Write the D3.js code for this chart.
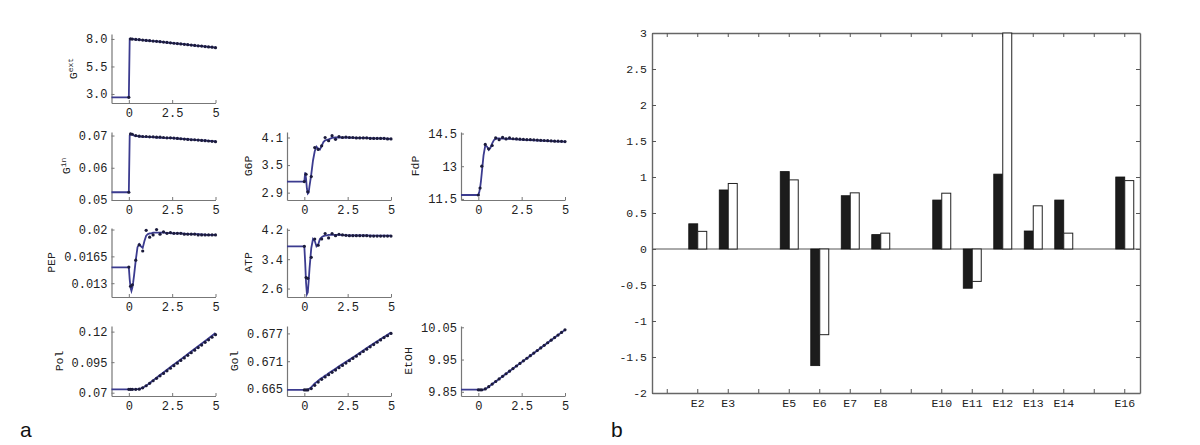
<!DOCTYPE html>
<html><head><meta charset="utf-8">
<script src="https://cdn.jsdelivr.net/npm/d3@7"></script>
<style>body{margin:0;background:#fff} svg{display:block}</style>
</head><body><svg id="c" width="1200" height="445"></svg>
<script>
// ---------- panel a data ----------
const tLine = [-1, 0, 0.05, 0.1, 0.15, 0.2, 0.25, 0.3, 0.4, 0.5, 0.6, 0.7, 0.8, 0.9, 1.0, 1.1, 1.2, 1.3, 1.4, 1.6, 1.8, 2.0, 2.5, 3.0, 3.5, 4.0, 4.5, 5.0];
const tDots = [0, 0.1, 0.2, 0.4, 0.6, 0.8, 1.0, 1.2, 1.4, 1.6, 1.8, 2.0, 2.2, 2.4, 2.6, 2.8, 3.0, 3.2, 3.4, 3.6, 3.8, 4.0, 4.2, 4.4, 4.6, 4.8, 5.0];
const xTicksSmall = [0, 2.5, 5];
const xTickLabelsSmall = ["0", "2.5", "5"];

const gextLine = [2.7, 2.7, 8.0, 8.0, 7.99, 7.99, 7.98, 7.97, 7.96, 7.94, 7.93, 7.91, 7.90, 7.88, 7.87, 7.85, 7.84, 7.82, 7.81, 7.78, 7.75, 7.72, 7.63, 7.55, 7.46, 7.38, 7.30, 7.21];
const gextDots = [2.7, 8.0, 7.99, 7.96, 7.93, 7.90, 7.87, 7.84, 7.81, 7.78, 7.75, 7.72, 7.68, 7.65, 7.61, 7.58, 7.55, 7.51, 7.48, 7.44, 7.41, 7.38, 7.35, 7.31, 7.28, 7.25, 7.21];
const gextTicks = ["3.0", "5.5", "8.0"];

const ginLine = [0.0524, 0.0524, 0.0700, 0.0704, 0.0704, 0.0703, 0.0702, 0.0700, 0.0699, 0.0698, 0.0697, 0.0697, 0.0697, 0.0696, 0.0696, 0.0696, 0.0696, 0.0695, 0.0695, 0.0694, 0.0694, 0.0693, 0.0692, 0.0690, 0.0688, 0.0686, 0.0684, 0.0682];
const ginDots = [0.0524, 0.0705, 0.0704, 0.0700, 0.0698, 0.0697, 0.0697, 0.0696, 0.0696, 0.0695, 0.0695, 0.0694, 0.0693, 0.0693, 0.0692, 0.0691, 0.0690, 0.0689, 0.0688, 0.0687, 0.0687, 0.0686, 0.0685, 0.0684, 0.0683, 0.0682, 0.0681];
const ginTicks = ["0.05", "0.06", "0.07"];

const g6pLine = [3.14, 3.14, 3.34, 3.2, 2.98, 2.88, 2.9, 3.05, 3.3, 3.6, 3.8, 3.9, 3.86, 3.84, 3.92, 4.0, 4.04, 4.05, 4.06, 4.09, 4.1, 4.1, 4.1, 4.09, 4.09, 4.08, 4.08, 4.07];
const g6pDots = [3.14, 3.30, 2.92, 3.25, 3.88, 3.84, 3.92, 4.10, 4.03, 4.14, 4.06, 4.12, 4.10, 4.11, 4.10, 4.10, 4.09, 4.09, 4.09, 4.09, 4.08, 4.08, 4.08, 4.08, 4.08, 4.07, 4.07];
const g6pTicks = ["2.9", "3.5", "4.1"];

const fdpLine = [11.68, 11.68, 11.8, 12.0, 12.3, 12.7, 13.1, 13.5, 13.95, 13.9, 13.75, 13.85, 14.05, 14.2, 14.25, 14.28, 14.28, 14.27, 14.27, 14.26, 14.25, 14.24, 14.22, 14.2, 14.18, 14.16, 14.14, 14.13];
const fdpDots = [11.68, 12.0, 13.0, 14.0, 13.8, 13.95, 14.3, 14.22, 14.32, 14.25, 14.3, 14.26, 14.25, 14.24, 14.23, 14.22, 14.22, 14.21, 14.20, 14.19, 14.18, 14.17, 14.16, 14.15, 14.15, 14.14, 14.13];
const fdpTicks = ["11.5", "13", "14.5"];

const pepLine = [0.01507, 0.01507, 0.0135, 0.0124, 0.0120, 0.0124, 0.0131, 0.0140, 0.0160, 0.0177, 0.0181, 0.0178, 0.0176, 0.0185, 0.0192, 0.0194, 0.0195, 0.0195, 0.0196, 0.0196, 0.0196, 0.0196, 0.0195, 0.0195, 0.0194, 0.0194, 0.0193, 0.0193];
const pepDots = [0.0151, 0.0126, 0.0128, 0.0160, 0.0180, 0.0172, 0.0199, 0.0190, 0.0193, 0.0200, 0.0194, 0.0197, 0.0195, 0.0196, 0.0195, 0.0195, 0.0195, 0.0194, 0.0194, 0.0194, 0.0194, 0.0193, 0.0193, 0.0193, 0.0193, 0.0193, 0.0193];
const pepTicks = ["0.013", "0.0165", "0.02"];

const atpLine = [3.75, 3.75, 3.3, 2.75, 2.45, 2.5, 2.8, 3.15, 3.7, 3.95, 3.9, 3.75, 3.8, 3.95, 4.0, 4.03, 4.04, 4.05, 4.06, 4.06, 4.06, 4.06, 4.05, 4.05, 4.05, 4.04, 4.04, 4.04];
const atpDots = [3.75, 2.9, 2.88, 3.45, 3.95, 3.78, 3.95, 4.10, 3.98, 4.10, 4.04, 4.08, 4.06, 4.05, 4.04, 4.04, 4.04, 4.04, 4.04, 4.04, 4.03, 4.03, 4.03, 4.03, 4.03, 4.03, 4.03];
const atpTicks = ["2.6", "3.4", "4.2"];

const polLine = [0.0728, 0.0728, 0.0728, 0.0728, 0.0728, 0.0728, 0.0728, 0.0728, 0.0728, 0.0729, 0.0731, 0.0735, 0.0741, 0.0749, 0.0758, 0.0768, 0.0779, 0.0790, 0.0801, 0.0823, 0.0845, 0.0866, 0.0920, 0.0973, 0.1027, 0.1080, 0.1134, 0.1188];
const polDots = [0.0728, 0.0728, 0.0728, 0.0728, 0.0729, 0.0740, 0.0757, 0.0777, 0.0798, 0.0818, 0.0838, 0.0858, 0.0879, 0.0900, 0.0921, 0.0942, 0.0964, 0.0985, 0.1006, 0.1027, 0.1048, 0.1069, 0.1090, 0.1112, 0.1133, 0.1154, 0.1175];
const polTicks = ["0.07", "0.095", "0.12"];

const golLine = [0.6648, 0.6648, 0.6648, 0.6648, 0.6648, 0.6649, 0.6650, 0.6651, 0.6654, 0.6658, 0.6662, 0.6665, 0.6668, 0.6671, 0.6674, 0.6676, 0.6679, 0.6681, 0.6684, 0.6689, 0.6694, 0.6699, 0.6711, 0.6723, 0.6736, 0.6748, 0.6760, 0.6772];
const golDots = [0.6648, 0.6648, 0.6648, 0.6651, 0.6658, 0.6665, 0.6671, 0.6676, 0.6681, 0.6686, 0.6691, 0.6696, 0.6701, 0.6706, 0.6711, 0.6716, 0.6721, 0.6726, 0.6731, 0.6736, 0.6741, 0.6746, 0.6751, 0.6756, 0.6761, 0.6765, 0.6770];
const golTicks = ["0.665", "0.671", "0.677"];

const etohLine = [9.857, 9.857, 9.856, 9.856, 9.856, 9.856, 9.856, 9.857, 9.859, 9.862, 9.866, 9.870, 9.874, 9.878, 9.882, 9.886, 9.890, 9.894, 9.898, 9.906, 9.914, 9.922, 9.942, 9.962, 9.982, 10.002, 10.022, 10.042];
const etohDots = [9.856, 9.856, 9.856, 9.859, 9.866, 9.874, 9.882, 9.890, 9.898, 9.906, 9.914, 9.922, 9.930, 9.938, 9.946, 9.954, 9.962, 9.970, 9.978, 9.986, 9.994, 10.002, 10.010, 10.018, 10.026, 10.034, 10.042];
const etohTicks = ["9.85", "9.95", "10.05"];

// ---------- panel b data ----------
const categories = ["E1","E2","E3","E4","E5","E6","E7","E8","E9","E10","E11","E12","E13","E14","E15","E16"];
const catLabels = ["","E2","E3","","E5","E6","E7","E8","","E10","E11","E12","E13","E14","","E16"];
const blackVals = [0, 0.35, 0.82, 0, 1.075, -1.62, 0.74, 0.20, 0, 0.68, -0.545, 1.04, 0.25, 0.68, 0, 1.0];
const whiteVals = [0, 0.245, 0.91, 0, 0.96, -1.19, 0.78, 0.22, 0, 0.775, -0.45, 3.0, 0.60, 0.22, 0, 0.95];
const barYTicks = [3, 2.5, 2, 1.5, 1, 0.5, 0, -0.5, -1, -1.5, -2];
const barYLabels = ["3","2.5","2","1.5","1","0.5","0","-0.5","-1","-1.5","-2"];

// ---------- drawing ----------
const svg = d3.select("#c");
const mono = "'Liberation Mono', 'Courier New', monospace";

const colLeft = [111.5, 287, 461];
const rowBox = [[34,103],[132,200],[228,297],[326,396]];
const pw = 104;

const panels = [
  {lab:"G", sup:"ext", col:0, row:0, line:gextLine, dots:gextDots, ticks:gextTicks, dom:[2.18, 8.45]},
  {lab:"G", sup:"in",  col:0, row:1, line:ginLine,  dots:ginDots,  ticks:ginTicks,  dom:[0.05, 0.0711]},
  {lab:"G6P", col:1, row:1, line:g6pLine, dots:g6pDots, ticks:g6pTicks, dom:[2.74, 4.22]},
  {lab:"FdP", col:2, row:1, line:fdpLine, dots:fdpDots, ticks:fdpTicks, dom:[11.45, 14.57]},
  {lab:"PEP", col:0, row:2, line:pepLine, dots:pepDots, ticks:pepTicks, dom:[0.0112, 0.0202]},
  {lab:"ATP", col:1, row:2, line:atpLine, dots:atpDots, ticks:atpTicks, dom:[2.37, 4.25]},
  {lab:"Pol", col:0, row:3, line:polLine, dots:polDots, ticks:polTicks, dom:[0.0673, 0.1246]},
  {lab:"Gol", col:1, row:3, line:golLine, dots:golDots, ticks:golTicks, dom:[0.6635, 0.6786]},
  {lab:"EtOH", col:2, row:3, line:etohLine, dots:etohDots, ticks:etohTicks, dom:[9.837, 10.054]}
];

const axisCol = "#777";
panels.forEach(p => {
  const left = colLeft[p.col];
  const [top, bottom] = rowBox[p.row];
  const x = d3.scaleLinear().domain([-1, 5]).range([left, left + pw]);
  const y = d3.scaleLinear().domain(p.dom).range([bottom, top]);
  const g = svg.append("g");

  const yax = d3.axisLeft(y).tickValues(p.ticks.map(Number))
    .tickFormat((d,i) => p.ticks[i]).tickSize(-3).tickSizeOuter(0).tickPadding(4);
  const ga = g.append("g").attr("transform", `translate(${left},0)`).call(yax);
  const xax = d3.axisBottom(x).tickValues(xTicksSmall)
    .tickFormat((d,i) => xTickLabelsSmall[i]).tickSize(-3).tickSizeOuter(0).tickPadding(5);
  const gb = g.append("g").attr("transform", `translate(0,${bottom})`).call(xax);
  [ga, gb].forEach(a => {
    a.select(".domain").attr("stroke", axisCol).attr("stroke-width", 1.2);
    a.selectAll(".tick line").attr("stroke", axisCol);
    a.selectAll("text").attr("font-family", mono).attr("font-size", 12).attr("fill", "#222");
  });

  const line = d3.line().x((d,i) => x(tLine[i])).y(d => y(d));
  g.append("path").datum(p.line).attr("d", line)
    .attr("fill", "none").attr("stroke", "#3b3b8f").attr("stroke-width", 1.8);
  g.selectAll("circle.d").data(p.dots).join("circle")
    .attr("cx", (d,i) => x(tDots[i])).attr("cy", d => y(d)).attr("r", 1.6)
    .attr("fill", "#1b1b3c");

  // y axis label
  const maxLen = d3.max(p.ticks, s => s.length);
  const lx = left - 4 - maxLen * 7.2 - 9;
  const t = g.append("text")
    .attr("transform", `translate(${lx},${(top + bottom) / 2}) rotate(-90)`)
    .attr("text-anchor", "middle").attr("font-family", mono).attr("font-size", 11.5).attr("fill", "#222");
  t.append("tspan").text(p.lab);
  if (p.sup) t.append("tspan").attr("baseline-shift", "super").attr("font-size", 8).text(p.sup);
});

svg.append("text").attr("x", 20).attr("y", 437).attr("font-family", "Arial, 'Liberation Sans', sans-serif")
  .attr("font-size", 21).attr("fill", "#111").text("a");

// ---------- bar chart ----------
const bx = d3.scaleBand().domain(categories).range([652, 1140]);
const by = d3.scaleLinear().domain([-2, 3]).range([393, 33]);
const bw = bx.bandwidth() * 0.295;
const bg = svg.append("g");

bg.append("line").attr("x1", 652).attr("x2", 1140).attr("y1", by(0)).attr("y2", by(0))
  .attr("stroke", "#555").attr("stroke-width", 1);

const fmtY = (d) => barYLabels[barYTicks.indexOf(d)];
const axes = [
  bg.append("g").attr("transform", `translate(652,0)`).call(d3.axisLeft(by).tickValues(barYTicks).tickFormat(fmtY).tickSize(-4).tickSizeOuter(0).tickPadding(5)),
  bg.append("g").attr("transform", `translate(1140,0)`).call(d3.axisRight(by).tickValues(barYTicks).tickFormat("").tickSize(-4).tickSizeOuter(0)),
  bg.append("g").attr("transform", `translate(0,393)`).call(d3.axisBottom(bx).tickFormat((d,i) => catLabels[i]).tickSize(-4).tickSizeOuter(0).tickPadding(6)),
  bg.append("g").attr("transform", `translate(0,33)`).call(d3.axisTop(bx).tickFormat("").tickSize(-4).tickSizeOuter(0))
];
axes.forEach(a => {
  a.select(".domain").attr("stroke", "#666").attr("stroke-width", 1.4);
  a.selectAll(".tick line").attr("stroke", "#555");
  a.selectAll("text").attr("font-family", mono).attr("font-size", 11.5).attr("fill", "#222");
});

const cx = c => bx(c) + bx.bandwidth() / 2;
bg.selectAll("rect.blk").data(categories.filter((c,i) => blackVals[i] !== 0)).join("rect")
  .attr("x", c => cx(c) - bw).attr("width", bw)
  .attr("y", c => by(Math.max(0, blackVals[categories.indexOf(c)])))
  .attr("height", c => Math.abs(by(blackVals[categories.indexOf(c)]) - by(0)))
  .attr("fill", "#1c1c1c").attr("stroke", "#111").attr("stroke-width", 0.8);
bg.selectAll("rect.wht").data(categories.filter((c,i) => whiteVals[i] !== 0)).join("rect")
  .attr("x", c => cx(c)).attr("width", bw)
  .attr("y", c => by(Math.max(0, whiteVals[categories.indexOf(c)])))
  .attr("height", c => Math.abs(by(whiteVals[categories.indexOf(c)]) - by(0)))
  .attr("fill", "#fff").attr("stroke", "#222").attr("stroke-width", 1);

svg.append("text").attr("x", 611).attr("y", 437).attr("font-family", "Arial, 'Liberation Sans', sans-serif")
  .attr("font-size", 21).attr("fill", "#111").text("b");
</script></body></html>
